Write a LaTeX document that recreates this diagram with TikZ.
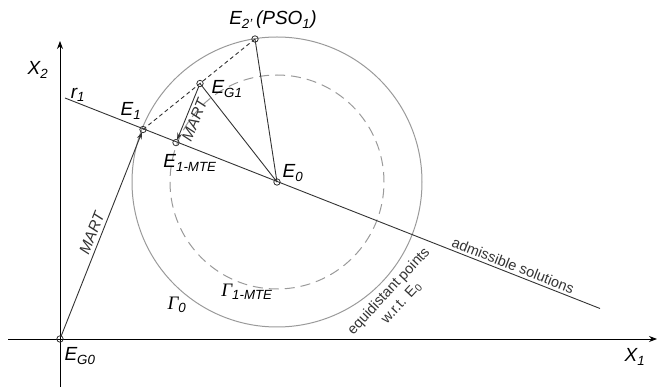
\documentclass[tikz,border=0pt]{standalone}
\usepackage{fontspec}
\setmainfont{Liberation Sans}
\newfontfamily\serifit{Liberation Serif}
\usetikzlibrary{arrows.meta}
\definecolor{ln}{HTML}{333333}
\definecolor{circ}{HTML}{9A9A9A}
\tikzset{
  lbl/.style={font=\fontsize{19}{21}\selectfont\itshape, text=black, inner sep=0pt},
  txt/.style={font=\fontsize{14.5}{17}\selectfont, text=ln, inner sep=0pt},
  mart/.style={font=\fontsize{15.5}{17}\selectfont\itshape, text=ln, inner sep=1pt},
  pt/.style={draw=ln, line width=0.8pt},
  seg/.style={draw=ln, line width=0.9pt},
  axis/.style={draw=black, line width=0.9pt, -{Stealth[length=8pt,width=6pt]}},
  arr/.style={draw=ln, line width=0.9pt, -{Stealth[length=7pt,width=5pt]}, shorten >=3pt, shorten <=3pt},
  dsh/.style={draw=ln, line width=0.9pt, dash pattern=on 4pt off 3pt},
  bigcirc/.style={draw=circ, line width=1pt},
  dcirc/.style={draw=circ, line width=1pt, dash pattern=on 10pt off 6pt}
}
\begin{document}
\begin{tikzpicture}[x=1pt,y=-1pt]
\useasboundingbox (0,0) rectangle (657,387);
% points
\coordinate (EG0) at (60,339);
\coordinate (E1) at (143,129.5);
\coordinate (EG1) at (200,83.5);
\coordinate (E2) at (255,39);
\coordinate (E0) at (277,182);
\coordinate (E1MTE) at (176,142.6);
\coordinate (r1a) at (65,98);
\coordinate (r1b) at (600,308.5);
\coordinate (X1a) at (8,339);
\coordinate (X1b) at (657,339);
\coordinate (X2a) at (60,387);
\coordinate (X2b) at (60,41);
% circles
\draw[bigcirc] (E0) circle[radius=145pt];
\draw[dcirc] (E0) circle[radius=107pt];
% axes
\draw[axis] (X1a) -- (X1b);
\draw[axis] (X2a) -- (X2b);
% line r1
\draw[seg] (r1a) -- (r1b);
% segments
\draw[dsh] (E1) -- (E2);
\draw[seg] (EG1) -- (E0);
\draw[seg] (E2) -- (E0);
\draw[arr] (EG0) -- (E1);
\draw[arr] (EG1) -- (E1MTE);
% point markers
\foreach \p in {EG0,E1,EG1,E2,E0,E1MTE} \draw[pt] (\p) circle[radius=3.2pt];
% MART labels
\path (EG0) -- (E1) node[mart, pos=0.49, sloped, above=3pt] {MART};
\path (E1MTE) -- (EG1) node[mart, pos=0.44, sloped, below=2pt] {MART};
% admissible solutions
\path (r1a) -- (r1b) node[txt, pos=0.832, sloped, above=3pt] {admissible solutions};
% equidistant
\node[txt, align=center, rotate=47] (eq) at (395,297) {equidistant points\\w.r.t. E\textsubscript{0}};
% labels
\node[lbl] (lX2) at (38,70) {X\textsubscript{2}};
\node[lbl] (lX1) at (635,357) {X\textsubscript{1}};
\node[lbl] (lr1) at (78,95) {r\textsubscript{1}};
\node[lbl] (lE1) at (131,111) {E\textsubscript{1}};
\node[lbl] (lEG1) at (227,89) {E\textsubscript{G1}};
\node[lbl] (lE2) at (273,20) {E\textsubscript{2'}\,(PSO\textsubscript{1})};
\node[lbl] (lE1MTE) at (190,163) {E\textsubscript{1-MTE}};
\node[lbl] (lE0) at (293,173) {E\textsubscript{0}};
\node[lbl] (lEG0) at (80,356) {E\textsubscript{G0}};
\node[lbl] (lG0) at (177,305) {{\serifit\itshape\char"0393}\textsubscript{0}};
\node[lbl] (lG1) at (247,292) {{\serifit\itshape\char"0393}\textsubscript{1-MTE}};
\end{tikzpicture}
\end{document}
